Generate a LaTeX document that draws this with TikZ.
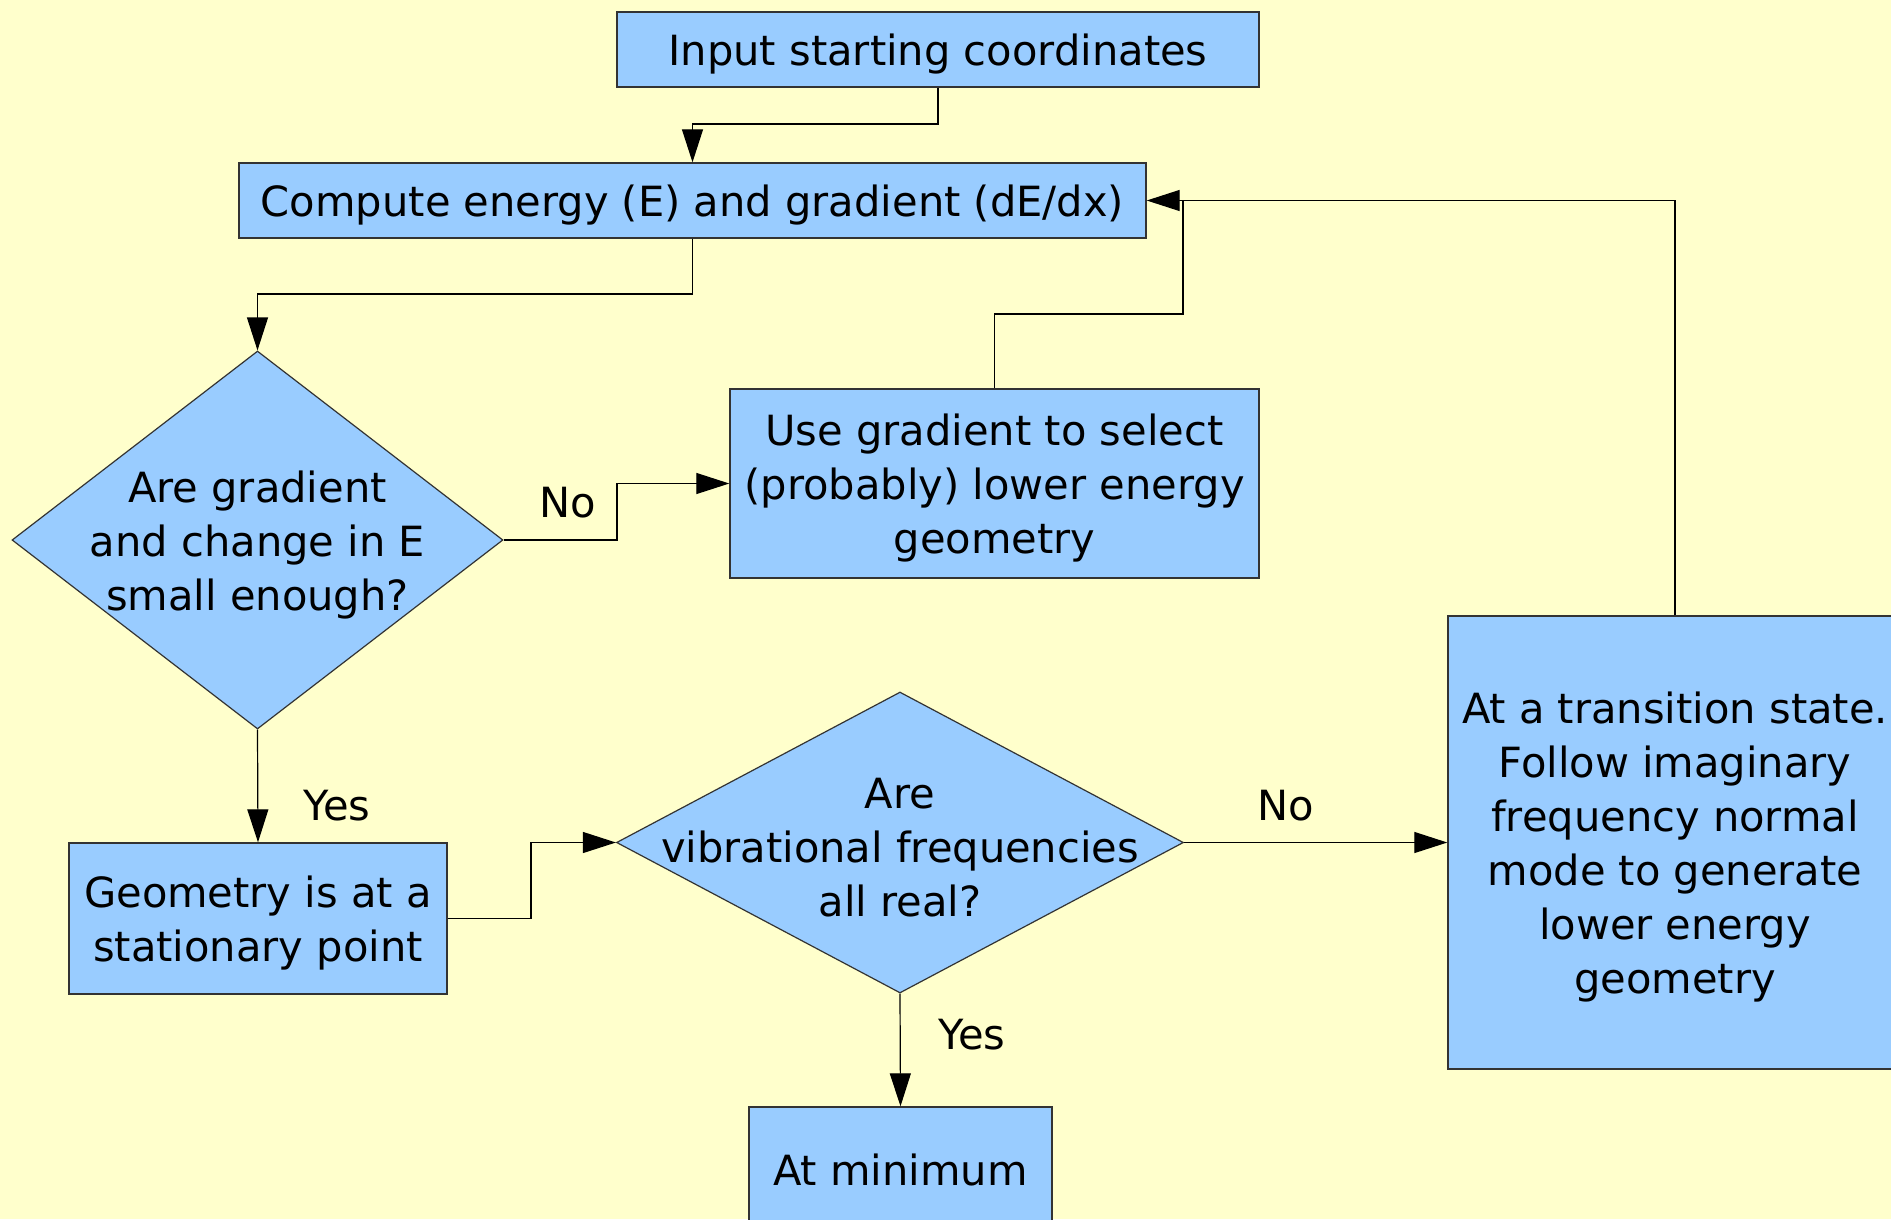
\documentclass[tikz,border=0pt]{standalone}
\usepackage{fontspec}
\setmainfont{DejaVu Sans}
\usetikzlibrary{shapes.geometric,arrows.meta}
\definecolor{bgyellow}{HTML}{FFFFCC}
\definecolor{boxblue}{HTML}{99CCFF}
\definecolor{edge}{HTML}{333333}
\tikzset{
  txt/.style={font=\fontsize{41.6}{54}\selectfont, text=black, align=center},
  intxt/.style={txt, yshift=-5pt},
  box/.style={draw=edge, line width=1.4pt, fill=boxblue, rectangle, inner sep=0pt},
  dia/.style={draw=edge, line width=1.2pt, fill=boxblue, diamond, inner sep=0pt},
  arr/.style={draw=black, line width=1.2pt, -{Triangle[length=33pt,width=21pt]}},
  wire/.style={draw=black, line width=1.2pt},
  lbl/.style={txt, inner sep=0pt}
}
\begin{document}
\begin{tikzpicture}[x=1pt,y=-1pt]
\useasboundingbox (0,0) rectangle (1891,1219);
\clip (0,0) rectangle (1891,1219);
\fill[bgyellow] (0,0) rectangle (1891,1219);

\node[box, minimum width=642pt, minimum height=75pt,
      label={[intxt]center:Input starting coordinates}] (input) at (938,49.5) {};
\node[box, minimum width=907pt, minimum height=75pt,
      label={[intxt]center:Compute energy (E) and gradient (dE/dx)}] (compute) at (692.5,200.5) {};
\node[dia, minimum width=491pt, minimum height=378pt,
      label={[intxt]center:Are gradient\\and change in E\\small enough?}] (d1) at (257.5,540) {};
\node[box, minimum width=529pt, minimum height=189pt,
      label={[intxt]center:Use gradient to select\\(probably) lower energy\\geometry}] (use) at (994.5,483.5) {};
\node[box, minimum width=378pt, minimum height=151pt,
      label={[intxt]center:Geometry is at a\\stationary point}] (geom) at (258,918.5) {};
\node[dia, minimum width=567pt, minimum height=301pt,
      label={[intxt]center:Are\\vibrational frequencies\\all real?}] (d2) at (900,842.5) {};
\node[box, minimum width=303pt, minimum height=116pt,
      label={[intxt]center:At minimum}] (atmin) at (900.5,1165) {};
\node[box, minimum width=454pt, minimum height=453pt,
      label={[intxt]center:At a transition state.\\Follow imaginary\\frequency normal\\mode to generate\\lower energy\\geometry}] (trans) at (1675,842.5) {};

% connectors
\draw[arr] (input.south) -- (input.south |- 0,124) -- (compute.north |- 0,124) -- (compute.north);
\draw[arr] (compute.south) -- (compute.south |- 0,294) -- (d1.north |- 0,294) -- (d1.north);
\draw[arr] (d1.east) -- (617,540) -- (617,483.5) -- (use.west);
\draw[wire] (use.north) -- (use.north |- 0,314) -- (1183,314) -- (1183,200.5);
\draw[arr] (trans.north) -- (trans.north |- compute.east) -- (compute.east);
\draw[arr] (d1.south) -- (geom.north);
\draw[arr] (geom.east) -- (531,918.5) -- (531,842.5) -- (d2.west);
\draw[arr] (d2.east) -- (trans.west);
\draw[arr] (d2.south) -- (atmin.north);

% labels
\node[lbl] (no1) at (568,503) {No};
\node[lbl] (yes1) at (337,806) {Yes};
\node[lbl] (no2) at (1286,806) {No};
\node[lbl] (yes2) at (972,1035) {Yes};
\end{tikzpicture}
\end{document}
